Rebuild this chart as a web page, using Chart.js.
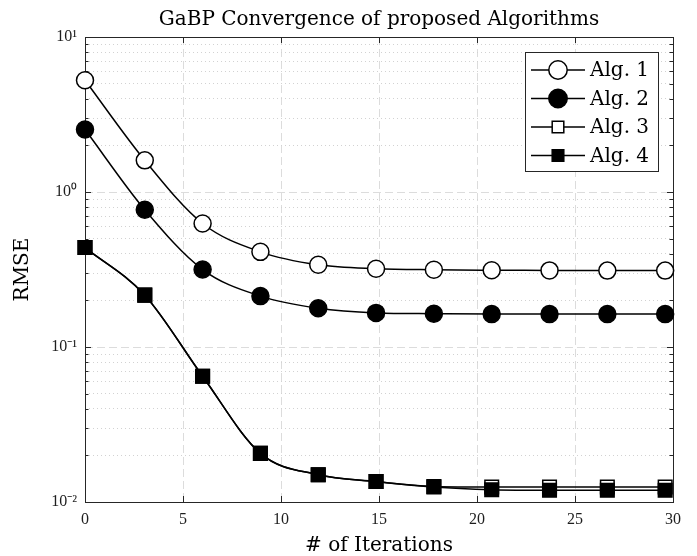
<!DOCTYPE html>
<html><head><meta charset="utf-8">
<script src="https://cdn.jsdelivr.net/npm/chart.js@4"></script>
<style>html,body{margin:0;padding:0;background:#fff;} canvas{display:block;}</style>
</head><body>
<canvas id="c" width="697" height="556"></canvas>
<script>
// ---- data ----
const iterations = [0, 3.05, 6.0, 8.95, 11.9, 14.85, 17.8, 20.75, 23.7, 26.65, 29.6];
const alg1 = [5.26, 1.60, 0.626, 0.411, 0.339, 0.320, 0.315, 0.313, 0.312, 0.311, 0.311];
const alg2 = [2.53, 0.768, 0.316, 0.213, 0.178, 0.166, 0.164, 0.163, 0.163, 0.163, 0.163];
const alg3 = [0.438, 0.216, 0.0648, 0.0206, 0.0150, 0.01355, 0.0126, 0.0125, 0.0125, 0.0125, 0.0125];
const alg4 = [0.438, 0.216, 0.0648, 0.0206, 0.0150, 0.01355, 0.01248, 0.0120, 0.0119, 0.0119, 0.0119];
const seriesLabels = ['Alg. 1', 'Alg. 2', 'Alg. 3', 'Alg. 4'];
const xTicks = [0, 5, 10, 15, 20, 25, 30];
const yDecades = [0.01, 0.1, 1, 10];
const yDecadeLabels = ['10\u207B\u00B2', '10\u207B\u00B9', '10\u2070', '10\u00B9'];
const titleText = 'GaBP Convergence of proposed Algorithms';
const xLabel = '# of Iterations';
const yLabel = 'RMSE';

// ---- helpers ----
const yTicks = [];
for (let i = 0; i < yDecades.length - 1; i++) {
  for (let m = 1; m <= 9; m++) yTicks.push(+(yDecades[i] * m).toPrecision(6));
}
yTicks.push(yDecades[yDecades.length - 1]);
const decadeIndex = v => yDecades.findIndex(d => Math.abs(Math.log10(v) - Math.log10(d)) < 1e-9);
const isMajor = v => decadeIndex(v) >= 0;

const styles = [
  {pointStyle: 'circle', bg: '#ffffff', r: 8.5},
  {pointStyle: 'circle', bg: '#000000', r: 8.5},
  {pointStyle: 'rect', bg: '#ffffff', r: 9.6},
  {pointStyle: 'rect', bg: '#000000', r: 9.6}
];
const allSeries = [alg1, alg2, alg3, alg4];

const datasets = allSeries.map((vals, i) => ({
  label: seriesLabels[i],
  data: iterations.map((x, k) => ({x: x, y: vals[k]})),
  borderColor: '#000',
  borderWidth: 1.5,
  pointStyle: styles[i].pointStyle,
  pointRadius: styles[i].r,
  pointHoverRadius: styles[i].r,
  pointBackgroundColor: styles[i].bg,
  pointBorderColor: '#000',
  pointBorderWidth: 1.5,
  cubicInterpolationMode: 'monotone',
  fill: false,
  clip: false,
  order: allSeries.length - 1 - i
}));

const frame = {
  id: 'frame',
  beforeDatasetsDraw(chart) {
    const {ctx, chartArea: {left, right, top, bottom}, scales: {x, y}} = chart;
    ctx.save();
    ctx.strokeStyle = '#262626';
    ctx.lineWidth = 1;
    ctx.beginPath();
    y.ticks.forEach(t => {
      const py = Math.round(y.getPixelForValue(t.value)) + 0.5;
      const len = isMajor(t.value) ? 6 : 3.5;
      ctx.moveTo(left, py); ctx.lineTo(left + len, py);
      ctx.moveTo(right, py); ctx.lineTo(right - len, py);
    });
    x.ticks.forEach(t => {
      const px = Math.round(x.getPixelForValue(t.value)) + 0.5;
      ctx.moveTo(px, bottom); ctx.lineTo(px, bottom - 6);
      ctx.moveTo(px, top); ctx.lineTo(px, top + 6);
    });
    ctx.stroke();
    ctx.strokeRect(Math.round(left) + 0.5, Math.round(top) + 0.5, Math.round(right - left), Math.round(bottom - top));
    // title centred over the axes box
    ctx.fillStyle = '#000';
    ctx.font = '20px "DejaVu Serif"';
    ctx.textAlign = 'center';
    ctx.textBaseline = 'alphabetic';
    ctx.fillText(titleText, (left + right) / 2, 25);
    ctx.restore();
  }
};

const boxLegend = {
  id: 'boxLegend',
  afterDraw(chart) {
    const ctx = chart.ctx;
    const bx = 525.5, by = 52.5, bw = 133, bh = 119;
    ctx.save();
    ctx.fillStyle = '#fff';
    ctx.fillRect(bx, by, bw, bh);
    ctx.strokeStyle = '#262626';
    ctx.lineWidth = 1;
    ctx.strokeRect(bx, by, bw, bh);
    chart.data.datasets.forEach((ds, i) => {
      const ry = by + 17.5 + i * 28.5;
      ctx.strokeStyle = '#000';
      ctx.lineWidth = 1.5;
      ctx.beginPath(); ctx.moveTo(531, ry); ctx.lineTo(585, ry); ctx.stroke();
      ctx.fillStyle = ds.pointBackgroundColor;
      ctx.beginPath();
      if (ds.pointStyle === 'circle') {
        ctx.arc(558, ry, 9.2, 0, Math.PI * 2);
      } else {
        ctx.rect(558 - 5.8, ry - 5.8, 11.6, 11.6);
      }
      ctx.fill(); ctx.stroke();
      ctx.fillStyle = '#000';
      ctx.font = '20px "DejaVu Serif"';
      ctx.textAlign = 'left';
      ctx.textBaseline = 'middle';
      ctx.fillText(ds.label, 590, ry + 1);
    });
    ctx.restore();
  }
};

new Chart(document.getElementById('c'), {
  type: 'line',
  data: {datasets: datasets},
  plugins: [frame, boxLegend],
  options: {
    responsive: false,
    animation: false,
    devicePixelRatio: 1,
    layout: {padding: {left: 0, right: 24, top: 37, bottom: 0}},
    plugins: {
      legend: {display: false},
      tooltip: {enabled: false},
      title: {display: false}
    },
    scales: {
      x: {
        type: 'linear',
        min: 0, max: 30,
        afterBuildTicks: s => { s.ticks = xTicks.map(v => ({value: v})); },
        afterFit: s => { s.height = 54; },
        ticks: {
          font: {family: 'Liberation Serif', size: 16},
          color: '#1e1e1e',
          padding: 8,
          maxRotation: 0,
          autoSkip: false
        },
        grid: {color: '#dcdcdc', lineWidth: 1, drawTicks: false},
        border: {display: false, dash: [8, 4]},
        title: {
          display: true, text: xLabel, color: '#000',
          font: {family: 'DejaVu Serif', size: 20, lineHeight: 1},
          padding: {top: 0, bottom: 0}
        }
      },
      y: {
        type: 'logarithmic',
        min: 0.01, max: 10,
        afterBuildTicks: s => { s.ticks = yTicks.map(v => ({value: v})); },
        afterFit: s => { s.width = 85; },
        ticks: {
          font: {family: 'Liberation Serif', size: 16},
          color: '#1e1e1e',
          padding: 8,
          autoSkip: false,
          callback: v => { const k = decadeIndex(v); return k >= 0 ? yDecadeLabels[k] : ''; }
        },
        grid: {
          lineWidth: 1, drawTicks: false,
          color: c => (c.tick && isMajor(c.tick.value)) ? '#dcdcdc' : '#d2d2d2'
        },
        border: {
          display: false,
          dash: c => (c.tick && isMajor(c.tick.value)) ? [8, 4] : [1, 3]
        },
        title: {
          display: true, text: yLabel, color: '#000',
          font: {family: 'DejaVu Serif', size: 20, lineHeight: 1},
          padding: {top: 13, bottom: 0}
        }
      }
    }
  }
});
</script>
</body></html>
